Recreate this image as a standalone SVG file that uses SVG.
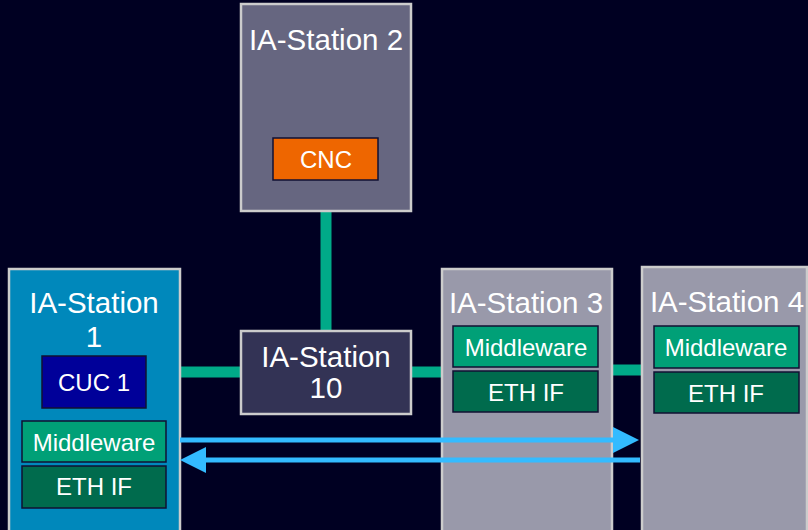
<svg xmlns="http://www.w3.org/2000/svg" width="808" height="530" viewBox="0 0 808 530">
<style>
.st{stroke:#CCCCCC;stroke-width:2.5}
.in{stroke:#111133;stroke-width:1.5}
.t{font-family:"Liberation Sans",Arial,sans-serif;fill:#FFFFFF;text-anchor:middle}
.big{font-size:29.5px}
.sm{font-size:24px}
.link{stroke:#00AA88;stroke-width:11;fill:none}
.arr{stroke:#33BBFF;stroke-width:5;fill:none}
</style>
<defs>
<marker id="ah" markerUnits="userSpaceOnUse" markerWidth="26" markerHeight="26" refX="0" refY="13" orient="auto" overflow="visible">
<path d="M0,0 L26,13 L0,26 Z" fill="#33BBFF"/>
</marker>
</defs>
<rect width="808" height="530" fill="#000022"/>
<g id="connectors">
<line class="link" x1="326" y1="211" x2="326" y2="330"/>
<line class="link" x1="180" y1="372" x2="240" y2="372"/>
<line class="link" x1="411" y1="372" x2="442" y2="372"/>
<line class="link" x1="612" y1="370" x2="642" y2="370"/>
</g>
<g id="station2">
<rect class="st" x="241" y="4" width="170" height="207" fill="#666680"/>
<text class="t big" x="326" y="50">IA-Station 2</text>
<g id="cnc">
<rect class="in" x="273" y="138" width="105" height="42" fill="#EE6600"/>
<text class="t sm" x="326" y="168">CNC</text>
</g>
</g>
<g id="station1">
<rect class="st" x="9" y="269" width="171" height="275" fill="#0088BB"/>
<text class="t big" x="94" y="313">IA-Station</text>
<text class="t big" x="94" y="347">1</text>
<g id="cuc1">
<rect class="in" x="42" y="356" width="104" height="52" fill="#000099"/>
<text class="t sm" x="94" y="391">CUC 1</text>
</g>
<g id="mw1">
<rect class="in" x="22" y="421" width="144" height="41" fill="#00A077"/>
<text class="t sm" x="94" y="451">Middleware</text>
</g>
<g id="eth1">
<rect class="in" x="22" y="466" width="144" height="42" fill="#006B4D"/>
<text class="t sm" x="94" y="495">ETH IF</text>
</g>
</g>
<g id="station10">
<rect class="st" x="241" y="331" width="170" height="83" fill="#333355"/>
<text class="t big" x="326" y="367">IA-Station</text>
<text class="t big" x="326" y="398">10</text>
</g>
<g id="station3">
<rect class="st" x="442" y="269" width="170" height="275" fill="#9999AA"/>
<text class="t big" x="526" y="313">IA-Station 3</text>
<g id="mw3">
<rect class="in" x="453" y="326" width="145" height="41" fill="#00A077"/>
<text class="t sm" x="526" y="356">Middleware</text>
</g>
<g id="eth3">
<rect class="in" x="453" y="371" width="145" height="41" fill="#006B4D"/>
<text class="t sm" x="526" y="401">ETH IF</text>
</g>
</g>
<g id="station4">
<rect class="st" x="642" y="267" width="165" height="277" fill="#9999AA"/>
<text class="t big" x="727" y="312">IA-Station 4</text>
<g id="mw4">
<rect class="in" x="654" y="326" width="145" height="42" fill="#00A077"/>
<text class="t sm" x="726" y="356">Middleware</text>
</g>
<g id="eth4">
<rect class="in" x="654" y="372" width="145" height="41" fill="#006B4D"/>
<text class="t sm" x="726" y="402">ETH IF</text>
</g>
</g>
<g id="arrows">
<line class="arr" x1="180" y1="440" x2="613" y2="440" marker-end="url(#ah)"/>
<line class="arr" x1="640" y1="460" x2="206" y2="460" marker-end="url(#ah)"/>
</g>
</svg>
